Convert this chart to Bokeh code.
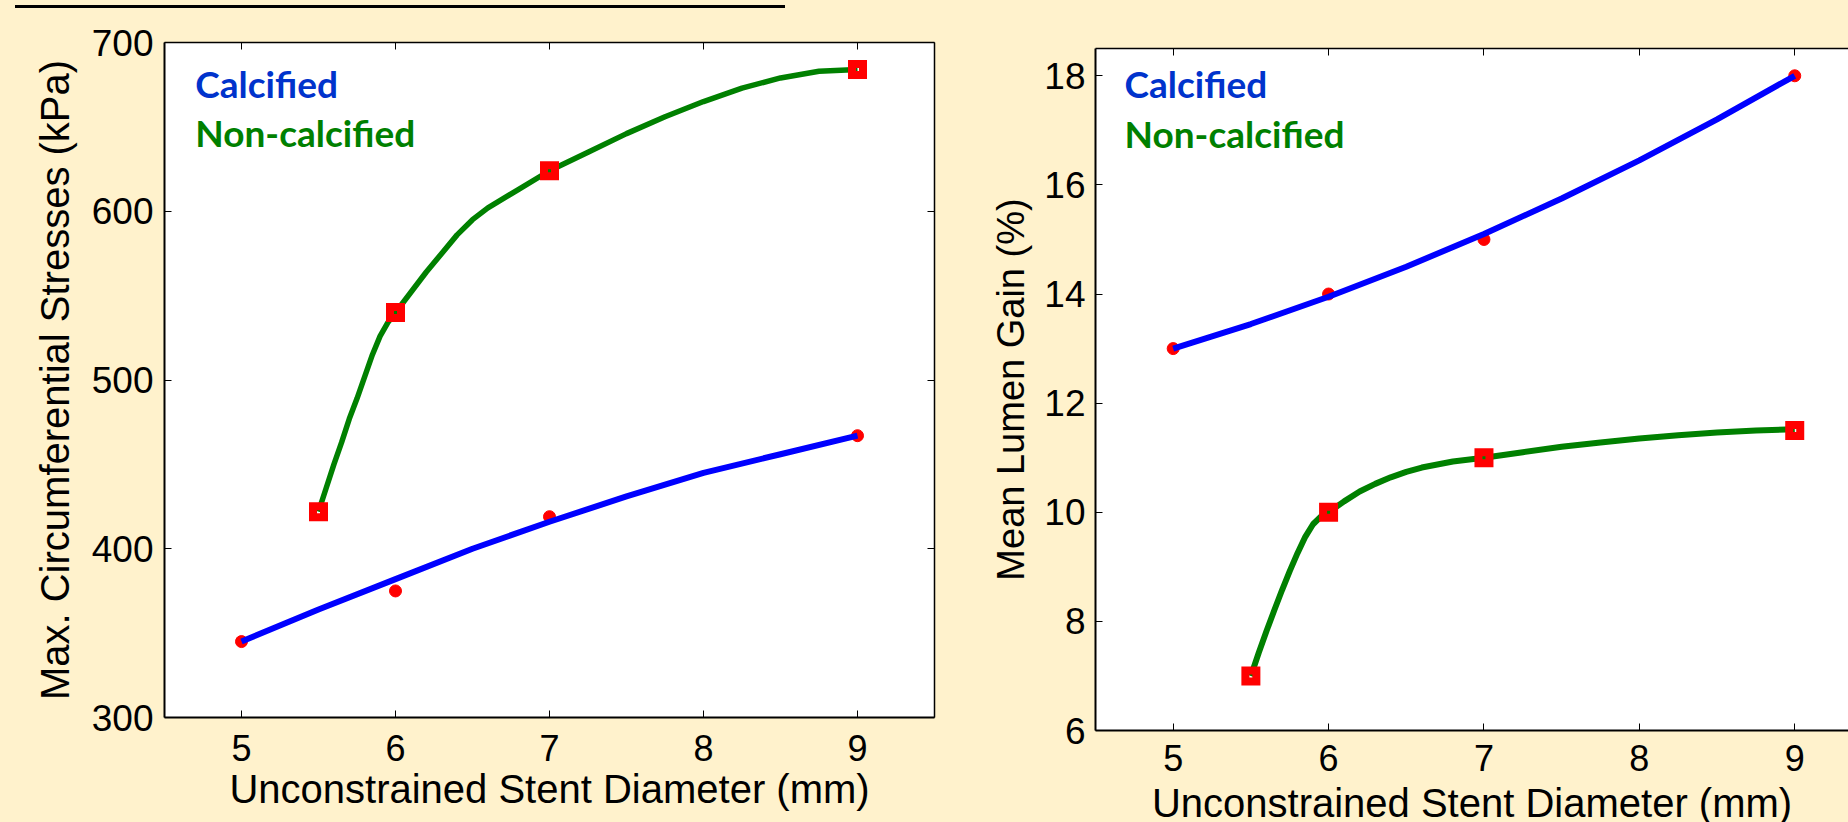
from bokeh.plotting import figure
from bokeh.models import Range1d, LinearAxis, FixedTicker, Label, Div, Spacer
from bokeh.layouts import column, row
from bokeh.embed import file_html
from bokeh.resources import INLINE

BG = "#FFF2CC"

# ---------------- data ----------------
diam_ticks = [5, 6, 7, 8, 9]
stress_ticks = [300, 400, 500, 600, 700]
gain_ticks = [6, 8, 10, 12, 14, 16, 18]

# Left panel: max. circumferential stresses (kPa)
calc_diam = [5, 6, 7, 9]
calc_stress = [345, 375, 419, 467]
noncalc_diam = [5.5, 6, 7, 9]
noncalc_stress = [422, 540, 624, 684]

calc_fit_diam = [5.0, 5.5, 6.0, 6.5, 7.0, 7.5, 8.0, 8.5, 9.0]
calc_fit_stress = [345, 364, 382, 400, 416, 431, 445, 456, 467]
noncalc_fit_diam = [5.5, 5.55, 5.6, 5.65, 5.7, 5.75, 5.8, 5.85, 5.9, 5.95, 6.0, 6.1, 6.2, 6.3,
                    6.4, 6.5, 6.6, 6.8, 7.0, 7.25, 7.5, 7.75, 8.0, 8.25, 8.5, 8.75, 9.0]
noncalc_fit_stress = [422, 436, 450, 463, 477, 489, 502, 515, 526, 534, 540, 552, 564, 575,
                      586, 595, 602, 613, 624, 635, 646, 656, 665, 673, 679, 683, 684]

# Right panel: mean lumen gain (%)
calc_gain = [13, 14, 15, 18]
noncalc_gain = [7, 10, 11, 11.5]

calc_fit_gain_diam = [5.0, 5.5, 6.0, 6.5, 7.0, 7.5, 8.0, 8.5, 9.0]
calc_fit_gain = [13.0, 13.45, 13.95, 14.5, 15.1, 15.75, 16.45, 17.2, 18.0]
noncalc_fit_gain_diam = [5.5, 5.55, 5.6, 5.65, 5.7, 5.75, 5.8, 5.85, 5.9, 5.95, 6.0, 6.1, 6.2, 6.3,
                         6.4, 6.5, 6.6, 6.8, 7.0, 7.25, 7.5, 7.75, 8.0, 8.25, 8.5, 8.75, 9.0]
noncalc_fit_gain = [7.0, 7.42, 7.82, 8.2, 8.57, 8.92, 9.25, 9.55, 9.78, 9.92, 10.0, 10.2, 10.38, 10.52,
                    10.64, 10.74, 10.82, 10.93, 11.0, 11.1, 11.2, 11.28, 11.35, 11.41, 11.46, 11.5, 11.52]

x_label = "Unconstrained Stent Diameter (mm)"
series_names = ["Calcified", "Non-calcified"]

TICK_FONT = "Liberation Sans"
BLUE_LINE = "#0000FF"
GREEN_LINE = "#008000"
BLUE_TEXT = "#0033CC"
GREEN_TEXT = "#008000"


def style_axis(ax, ticks, labels=True, tick_size="37px", standoff=10, lw=2):
    ax.ticker = FixedTicker(ticks=ticks)
    ax.axis_line_color = "black"
    ax.axis_line_width = lw
    ax.major_tick_in = 7
    ax.major_tick_out = 0
    ax.major_tick_line_color = "black"
    ax.major_tick_line_width = 1
    ax.minor_tick_line_color = None
    ax.major_label_text_font = TICK_FONT
    ax.major_label_standoff = standoff
    if labels:
        ax.major_label_text_font_size = tick_size
        ax.major_label_text_color = "black"
    else:
        ax.major_label_text_font_size = "1px"
        ax.major_label_text_color = None
        ax.major_label_standoff = 0
    ax.axis_label_text_font = TICK_FONT
    ax.axis_label_text_font_style = "normal"
    ax.axis_label_text_color = "black"


def make_fig(fw, fh, xr, yr, mb_left, mb_right, mb_top, mb_bottom):
    p = figure(frame_width=fw, frame_height=fh, x_range=Range1d(*xr), y_range=Range1d(*yr),
               output_backend="svg", toolbar_location=None, min_border=0, title=None,
               align="start")
    p.min_border_left = mb_left
    p.min_border_right = mb_right
    p.min_border_top = mb_top
    p.min_border_bottom = mb_bottom
    p.background_fill_color = "white"
    p.border_fill_color = BG
    p.outline_line_color = None
    p.grid.visible = False
    return p


def x_title(ax, font_size, standoff):
    ax.axis_label = x_label
    ax.axis_label_text_font_size = font_size
    ax.axis_label_standoff = standoff


def legend_text(p, x, y, text, color):
    p.add_layout(Label(x=x, y=y, text=text, text_font="Lato", text_font_style="bold",
                       text_font_size="37px", text_color=color, text_baseline="alphabetic"))


# ---------------- left panel ----------------
p1 = make_fig(770, 675, (4.5, 9.5), (300, 700), 164, 51, 28, 60)
style_axis(p1.xaxis[0], diam_ticks, tick_size="36px", standoff=17)
x_title(p1.xaxis[0], "40px", 3)
style_axis(p1.yaxis[0], stress_ticks, tick_size="37px", standoff=11)
p1.yaxis[0].axis_label = "Max. Circumferential Stresses (kPa)"
p1.yaxis[0].axis_label_text_font_size = "40px"
p1.yaxis[0].axis_label_standoff = 12
ax_top1 = LinearAxis()
style_axis(ax_top1, diam_ticks, labels=False, lw=1.5)
p1.add_layout(ax_top1, "above")
ax_right1 = LinearAxis()
style_axis(ax_right1, stress_ticks, labels=False, lw=1.5)
p1.add_layout(ax_right1, "right")

p1.scatter(calc_diam, calc_stress, marker="circle", size=12, color="#FF0000")
p1.line(calc_fit_diam, calc_fit_stress, line_width=6, color=BLUE_LINE)
p1.line(noncalc_fit_diam, noncalc_fit_stress, line_width=5.5, color=GREEN_LINE)
p1.scatter(noncalc_diam, noncalc_stress, marker="square", size=11, fill_color=None,
           line_color="#FF0000", line_width=8, line_join="miter")

legend_text(p1, 4.70, 675.5, series_names[0], BLUE_TEXT)
legend_text(p1, 4.70, 646.5, series_names[1], GREEN_TEXT)

# ---------------- right panel ----------------
p2 = make_fig(753, 682, (4.5, 9.346), (6, 18.5), 110, 0, 28, 60)
style_axis(p2.xaxis[0], diam_ticks, tick_size="36px", standoff=14)
x_title(p2.xaxis[0], "40px", 7)
style_axis(p2.yaxis[0], gain_ticks, tick_size="37px", standoff=10)
p2.yaxis[0].axis_label = "Mean Lumen Gain (%)"
p2.yaxis[0].axis_label_text_font_size = "38px"
p2.yaxis[0].axis_label_standoff = 9
ax_top2 = LinearAxis()
style_axis(ax_top2, diam_ticks, labels=False, lw=1.5)
p2.add_layout(ax_top2, "above")

p2.scatter(calc_diam, calc_gain, marker="circle", size=12, color="#FF0000")
p2.line(calc_fit_gain_diam, calc_fit_gain, line_width=6, color=BLUE_LINE)
p2.line(noncalc_fit_gain_diam, noncalc_fit_gain, line_width=6, color=GREEN_LINE)
p2.scatter(noncalc_diam, noncalc_gain, marker="square", size=11, fill_color=None,
           line_color="#FF0000", line_width=8, line_join="miter")

legend_text(p2, 4.687, 17.86, series_names[0], BLUE_TEXT)
legend_text(p2, 4.687, 16.94, series_names[1], GREEN_TEXT)

# ---------------- top rule + layout ----------------
rule = Div(text="", width=770, height=3, margin=(5, 0, 6, 15),
           styles={"background-color": "black"})

right_col = column(Spacer(width=863, height=6, styles={"background-color": BG}), p2,
                   spacing=0, align="start", styles={"background-color": BG})

layout = column(rule, row(p1, right_col, spacing=0, align="start", styles={"background-color": BG}),
                spacing=0, width=1848, height=822,
                styles={"background-color": BG, "overflow": "hidden"})

open("out.html", "w").write(file_html(layout, INLINE))
